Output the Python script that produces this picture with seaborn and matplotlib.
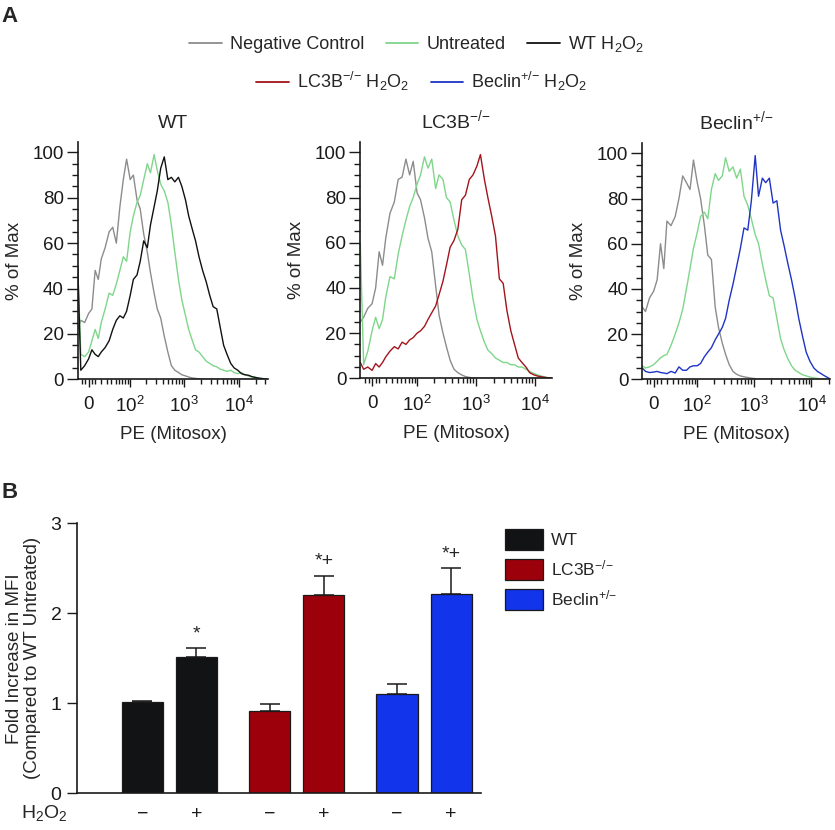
import numpy as np
import pandas as pd
import matplotlib
matplotlib.use('Agg')
import matplotlib.pyplot as plt
from matplotlib.lines import Line2D
from matplotlib.patches import Patch
import seaborn as sns

# PE (Mitosox) channel values shared by all histogram traces
pe_channel = [-17, -12, -6, 0, 5, 10, 15, 20, 27, 35, 43, 52, 62, 73, 85, 100, 115, 135,
              155, 180, 210, 240, 280, 320, 370, 430, 500, 580, 670, 780, 900, 1050, 1200,
              1400, 1600, 1850, 2150, 2500, 2900, 3350, 3900, 4500, 5200, 6000, 7000, 8100,
              9400, 11000, 12700, 14700, 17000, 20000, 23000, 27000, 32000]

# % of Max
wt_neg = [22, 26, 25, 29, 31, 48, 44, 53, 58, 65, 67, 60, 76, 88, 97, 88, 90, 79, 75, 64,
          56, 47, 38, 31, 27, 19, 12, 6, 4, 3, 2, 1.5, 1, 0.6, 0.4, 0.2] + [0] * 19
wt_untreated = [50, 11, 10, 12, 17, 22, 18, 25, 31, 38, 37, 42, 48, 54, 52, 65, 72, 78, 81, 88,
                95, 91, 99, 92, 86, 83, 78, 68, 56, 44, 35, 28, 22, 17, 13, 12, 10, 8, 7, 6,
                5.5, 4.5, 4, 3.5, 4, 3, 2.5, 3, 2, 1.5, 1, 0.8, 0.5, 0.3, 0]
wt_h2o2 = [50, 4, 6, 9, 13, 11, 10, 12, 14, 17, 22, 26, 28, 27, 30, 37, 44, 46, 52, 61,
           58, 68, 76, 83, 93, 98, 88, 89, 87, 89, 85, 79, 72, 66, 61, 54, 48, 43, 37, 32,
           31, 23, 15, 11, 7, 5, 4, 2.5, 2, 1.8, 1.2, 0.8, 0.5, 0.3, 0]

lc3b_neg = [25, 27, 31, 33, 40, 56, 50, 62, 73, 78, 88, 89, 97, 90, 96, 82, 79, 71, 62, 56,
            41, 28, 20, 14, 8, 4, 2.5, 1.5, 0.8, 0.4, 0.2] + [0] * 24
lc3b_untreated = [60, 6, 12, 21, 27, 22, 26, 36, 45, 44, 55, 63, 70, 76, 80, 86, 90, 98, 93, 97,
                  84, 90, 88, 80, 78, 70, 63, 59, 57, 46, 35, 26, 21, 16, 12.5, 11, 9, 8, 7, 7,
                  6, 6, 5, 5, 4, 3, 2.2, 1.5, 1, 0.6, 0.2, 0, 0, 0, 0]
lc3b_h2o2 = [7, 4, 5, 3.5, 6.5, 5, 7, 9.5, 12, 14, 13, 16, 15, 17, 18, 20, 21, 23, 26, 29,
             32, 37, 43, 50, 58, 61, 66, 79, 81, 88, 90, 94, 99, 88, 80, 72, 63, 44, 42, 30,
             21, 15, 9, 7, 5, 2.5, 1.6, 1, 0.7, 0.4, 0.2, 0, 0, 0, 0]

beclin_neg = [32, 30, 36, 39, 44, 60, 49, 70, 68, 72, 80, 90, 87, 84, 97, 87, 80, 68, 55, 53,
              32, 23, 16, 11, 6.5, 3.5, 2.2, 1.5, 1.1, 0.8, 0.5, 0.3] + [0] * 23
beclin_untreated = [6, 5, 5.5, 6.5, 8, 9.5, 10.5, 11, 15, 20, 25, 31, 40, 49, 58, 65, 72, 74, 71, 84,
                    91, 88, 90, 98, 92, 94, 89, 93, 81, 77, 71, 64, 60, 51, 44, 37, 36, 27, 18, 13,
                    9, 6, 4, 3, 2, 1.5, 1, 0.6, 0.4, 0.2, 0, 0, 0, 0, 0]
beclin_h2o2 = [5, 3.5, 3, 3.2, 3.5, 3, 2.8, 2.5, 3.5, 2.8, 5.5, 4, 4, 5.5, 6, 6, 7, 10, 12, 14,
               17.5, 20, 23, 27, 35, 42, 50, 58, 67, 66, 79, 99, 81, 89, 87, 89, 78, 79, 66, 59,
               51, 44, 36, 27, 19, 12, 8, 5, 3.5, 2.5, 1.5, 0.5, 0, 0, 0]

KO = '$^{\\text{\u2212/\u2212}}$'
HET = '$^{\\text{+/\u2212}}$'
panel_titles = ['WT', 'LC3B' + KO, 'Beclin' + HET]
panel_xmax = [34000, 19000, 21000]

# bar chart (panel B)
genotypes = ['WT', 'LC3B', 'Beclin']
h2o2_labels = ['\u2212', '+']
fold_mfi = [1.02, 1.51, 0.91, 2.20, 1.10, 2.21]
fold_sem = [0.01, 0.11, 0.08, 0.22, 0.11, 0.29]
sig_marks = ['', '*', '', '*+', '', '*+']

sns.set_style('ticks')
plt.rcParams['font.family'] = ['Liberation Sans', 'DejaVu Sans']
plt.rcParams['mathtext.fontset'] = 'custom'
plt.rcParams['mathtext.rm'] = 'Liberation Sans'
plt.rcParams['mathtext.it'] = 'Liberation Sans:italic'
plt.rcParams['mathtext.bf'] = 'Liberation Sans:bold'
plt.rcParams['axes.edgecolor'] = '#1a1a1a'
plt.rcParams['xtick.color'] = '#1a1a1a'
plt.rcParams['ytick.color'] = '#1a1a1a'

line_colors = {'neg': '#8c8c8c', 'untreated': '#7fd68a', 'wt': '#111111',
               'lc3b': '#a3141c', 'beclin': '#1f34c4'}
panel_series = [
    {'neg': wt_neg, 'untreated': wt_untreated, 'wt': wt_h2o2},
    {'neg': lc3b_neg, 'untreated': lc3b_untreated, 'lc3b': lc3b_h2o2},
    {'neg': beclin_neg, 'untreated': beclin_untreated, 'beclin': beclin_h2o2},
]

fig = plt.figure(figsize=(8.35, 8.3), dpi=100)

hist_rects = [[0.0931, 0.5430, 0.2283, 0.2863],
              [0.4315, 0.5442, 0.2292, 0.2851],
              [0.7692, 0.5430, 0.2248, 0.2851]]


def fwd(x):
    return np.arcsinh(np.asarray(x, dtype=float) / 36.0)


def inv(y):
    return 36.0 * np.sinh(np.asarray(y, dtype=float))


for rect, title, xmax, series in zip(hist_rects, panel_titles, panel_xmax, panel_series):
    ax = fig.add_axes(rect)
    df = pd.concat([pd.DataFrame({'PE': pe_channel, 'pct': vals, 'sample': name})
                    for name, vals in series.items()])
    sns.lineplot(data=df, x='PE', y='pct', hue='sample', hue_order=list(series.keys()),
                 palette=line_colors, estimator=None, sort=False, legend=False,
                 linewidth=1.0, ax=ax)
    ax.set_xscale('function', functions=(fwd, inv))
    ax.set_xlim(-17, xmax)
    ax.set_ylim(0, 104.7)
    ax.set_xticks([0, 100, 1000, 10000])
    ax.set_xticklabels(['0', r'$10^2$', r'$10^3$', r'$10^4$'])
    minor = [-10, -5, 5] + [k * 10 ** e for e in (1, 2, 3, 4) for k in range(1, 10)]
    ax.set_xticks([m for m in minor if m < xmax and m not in (100, 1000, 10000)], minor=True)
    ax.set_yticks(range(0, 101, 20))
    ax.set_yticks(range(0, 101, 5), minor=True)
    ax.tick_params(axis='x', which='major', length=6, width=1, pad=6, labelsize=13.5)
    ax.tick_params(axis='x', which='minor', length=3.5, width=1)
    ax.tick_params(axis='y', which='major', length=8, width=1, pad=2, labelsize=13.5)
    ax.tick_params(axis='y', which='minor', length=4, width=1)
    ax.set_xlabel('PE (Mitosox)', fontsize=13.5, labelpad=7)
    ax.set_ylabel('% of Max', fontsize=13.5, labelpad=7)
    ax.set_title(title, fontsize=14, pad=10)
    sns.despine(ax=ax)
    for sp in ax.spines.values():
        sp.set_linewidth(1.2)

# legend of panel A
leg_handles1 = [Line2D([], [], color=line_colors['neg'], lw=1.3),
                Line2D([], [], color=line_colors['untreated'], lw=1.3),
                Line2D([], [], color=line_colors['wt'], lw=1.3)]
leg_labels1 = ['Negative Control', 'Untreated', r'WT H$_2$O$_2$']
leg_handles2 = [Line2D([], [], color=line_colors['lc3b'], lw=1.3),
                Line2D([], [], color=line_colors['beclin'], lw=1.3)]
leg_labels2 = ['LC3B' + KO + r' H$_2$O$_2$', 'Beclin' + HET + r' H$_2$O$_2$']
fig.legend(leg_handles1, leg_labels1, loc='center', bbox_to_anchor=(0.499, 0.947),
           ncol=3, frameon=False, fontsize=13, handlelength=1.8, handletextpad=0.45,
           columnspacing=1.2)
fig.legend(leg_handles2, leg_labels2, loc='center', bbox_to_anchor=(0.505, 0.902),
           ncol=2, frameon=False, fontsize=13, handlelength=1.8, handletextpad=0.45,
           columnspacing=1.2)

# panel B
bar_colors = {'WT': '#121315', 'LC3B': '#9c000a', 'Beclin': '#1234ea'}
bar_df = pd.DataFrame({'genotype': np.repeat(genotypes, 2), 'h2o2': h2o2_labels * 3,
                       'fold': fold_mfi, 'sem': fold_sem, 'sig': sig_marks})

axb = fig.add_axes([0.0919, 0.0442, 0.4838, 0.3253])
sns.barplot(data=bar_df, x='genotype', y='fold', hue='h2o2', order=genotypes,
            hue_order=h2o2_labels, width=0.85, gap=0.24, errorbar=None, legend=False,
            edgecolor='#1a1a1a', linewidth=0.9, ax=axb)

bars = sorted(axb.patches, key=lambda p: p.get_x())
centers = []
for p, (_, row) in zip(bars, bar_df.iterrows()):
    p.set_facecolor(bar_colors[row['genotype']])
    xc = p.get_x() + p.get_width() / 2
    centers.append(xc)
    axb.errorbar(xc, row['fold'], yerr=[[0], [row['sem']]], fmt='none', ecolor='#1a1a1a',
                 elinewidth=1.1, capsize=7, capthick=1.1, zorder=1)
    if row['sig']:
        axb.text(xc, row['fold'] + row['sem'] + 0.06, row['sig'], ha='center', va='bottom',
                 fontsize=14)

axb.set_xlim(-0.728, 2.445)
axb.set_ylim(0, 3)
axb.set_yticks([0, 1, 2, 3])
axb.set_xticks(centers)
axb.set_xticklabels(bar_df['h2o2'], fontsize=14)
axb.tick_params(axis='x', length=0, pad=9)
axb.tick_params(axis='y', length=7, width=1, pad=4, labelsize=14)
axb.set_xlabel('')
axb.set_ylabel('Fold Increase in MFI\n(Compared to WT Untreated)', fontsize=13.5,
               labelpad=7, linespacing=1.05)
sns.despine(ax=axb)
for sp in axb.spines.values():
    sp.set_linewidth(1.2)

fig.text(44 / 835, 1 - 813 / 830, r'H$_2$O$_2$', fontsize=14, ha='center', va='center')

b_handles = [Patch(facecolor=bar_colors[g], edgecolor='#1a1a1a', linewidth=0.9) for g in genotypes]
b_labels = ['WT', 'LC3B' + KO, 'Beclin' + HET]
fig.legend(b_handles, b_labels, loc='upper left', bbox_to_anchor=(505 / 835, 1 - 529 / 830),
           frameon=False, fontsize=12.5, handlelength=2.2, handleheight=1.45,
           handletextpad=0.45, labelspacing=0.5, borderpad=0, borderaxespad=0)

fig.text(0.002, 1 - 16 / 830, 'A', fontsize=16, fontweight='bold', va='center')
fig.text(0.002, 1 - 492 / 830, 'B', fontsize=16, fontweight='bold', va='center')

fig.savefig('out.png', dpi=100)
